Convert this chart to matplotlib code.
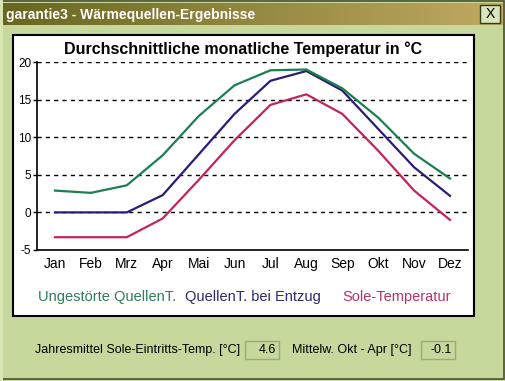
import numpy as np
import matplotlib
matplotlib.use("Agg")
import matplotlib.pyplot as plt
from matplotlib.patches import Rectangle

plt.rcParams['font.family'] = ['Liberation Sans', 'DejaVu Sans']

months = ["Jan", "Feb", "Mrz", "Apr", "Mai", "Jun", "Jul", "Aug", "Sep", "Okt", "Nov", "Dez"]
ungestoert = [2.9, 2.6, 3.6, 7.6, 12.8, 16.9, 18.9, 19.0, 16.5, 12.6, 7.8, 4.5]
entzug = [0.0, 0.0, 0.0, 2.3, 7.7, 13.1, 17.5, 18.8, 16.2, 11.1, 6.0, 2.2]
sole = [-3.3, -3.3, -3.3, -0.8, 4.3, 9.6, 14.3, 15.7, 13.1, 8.2, 2.9, -1.0]
yticks = [-5, 0, 5, 10, 15, 20]

jahresmittel = "4.6"
okt_apr = "-0.1"

W, H = 506, 381
bg_col = "#c6d89b"
green = "#1b8050"
navy = "#2b1c7c"
red = "#c4245e"

fig = plt.figure(figsize=(W / 100, H / 100), dpi=100)
fig.patch.set_facecolor(bg_col)

# window chrome drawn in pixel coordinates
bg = fig.add_axes([0, 0, 1, 1], zorder=0)
bg.set_xlim(0, W)
bg.set_ylim(H, 0)
bg.axis("off")

bg.add_patch(Rectangle((2, 1), W - 4, H - 3, facecolor="none", edgecolor="#4a5030", lw=1.2))
bg.add_patch(Rectangle((0, 0), 3, H, facecolor="#d8e6b4", edgecolor="none"))

grad = np.linspace(0, 1, 256).reshape(1, -1)
left_c = np.array([104, 102, 32]) / 255
right_c = np.array([192, 170, 96]) / 255
img = left_c[None, None, :] * (1 - grad[..., None]) + right_c[None, None, :] * grad[..., None]
bg.imshow(img, extent=[3, 503, 25, 3], aspect="auto", zorder=1)
bg.text(6, 14.5, "garantie3 - Wärmequellen-Ergebnisse", color="white", fontsize=10,
        fontweight="bold", va="center", ha="left", zorder=2)

bg.add_patch(Rectangle((480, 5), 20, 18, facecolor="#d9e5bb", edgecolor="#3a3a20", lw=1, zorder=2))
bg.text(490, 14.5, "X", fontsize=10, ha="center", va="center", zorder=3)

bg.add_patch(Rectangle((13, 35), 461, 281, facecolor="white", edgecolor="black", lw=1.5, zorder=1))
bg.text(243.5, 49, "Durchschnittliche monatliche Temperatur in °C", fontsize=11.5,
        fontweight="bold", ha="center", va="center", zorder=2)

bg.text(38, 297, "Ungestörte QuellenT.", color="#2e7d58", fontsize=10.5, va="center", zorder=2)
bg.text(185, 297, "QuellenT. bei Entzug", color="#2c2a70", fontsize=10.5, va="center", zorder=2)
bg.text(342, 297, "Sole-Temperatur", color="#b8306a", fontsize=10.5, va="center", zorder=2)

bg.text(35, 350, "Jahresmittel Sole-Eintritts-Temp. [°C]", fontsize=9, va="center", zorder=2)
bg.add_patch(Rectangle((245, 341), 34, 18, facecolor=bg_col, edgecolor="#9aaa78", lw=1, zorder=2))
bg.text(276, 350, jahresmittel, fontsize=9, ha="right", va="center", zorder=3)
bg.text(292, 350, "Mittelw. Okt - Apr [°C]", fontsize=9, va="center", zorder=2)
bg.add_patch(Rectangle((421, 341), 34, 18, facecolor=bg_col, edgecolor="#9aaa78", lw=1, zorder=2))
bg.text(452, 350, okt_apr, fontsize=9, ha="right", va="center", zorder=3)

# chart
ax = fig.add_axes([37 / W, 1 - 250 / H, 431 / W, 188 / H], zorder=2)
ax.patch.set_alpha(0)
x = np.arange(len(months))
ax.plot(x, sole, color=red, lw=1.6)
ax.plot(x, entzug, color=navy, lw=1.6)
ax.plot(x, ungestoert, color=green, lw=1.6)

ax.set_xlim(-0.5, 11.5)
ax.set_ylim(-5, 20)
ax.set_xticks(x)
ax.set_xticklabels(months, fontsize=10)
ax.set_yticks(yticks)
ax.set_yticklabels([str(v) for v in yticks], fontsize=8.5)
ax.tick_params(axis="x", length=0, pad=5)
ax.tick_params(axis="y", length=3, width=1, pad=1)
for v in yticks[1:]:
    ax.axhline(v, color="black", lw=1, ls=(0, (3, 3)), zorder=0)
for s in ["top", "right"]:
    ax.spines[s].set_visible(False)
ax.spines["left"].set_linewidth(1.2)
ax.spines["bottom"].set_linewidth(1.2)

fig.savefig("out.png", dpi=100, facecolor=fig.get_facecolor())
